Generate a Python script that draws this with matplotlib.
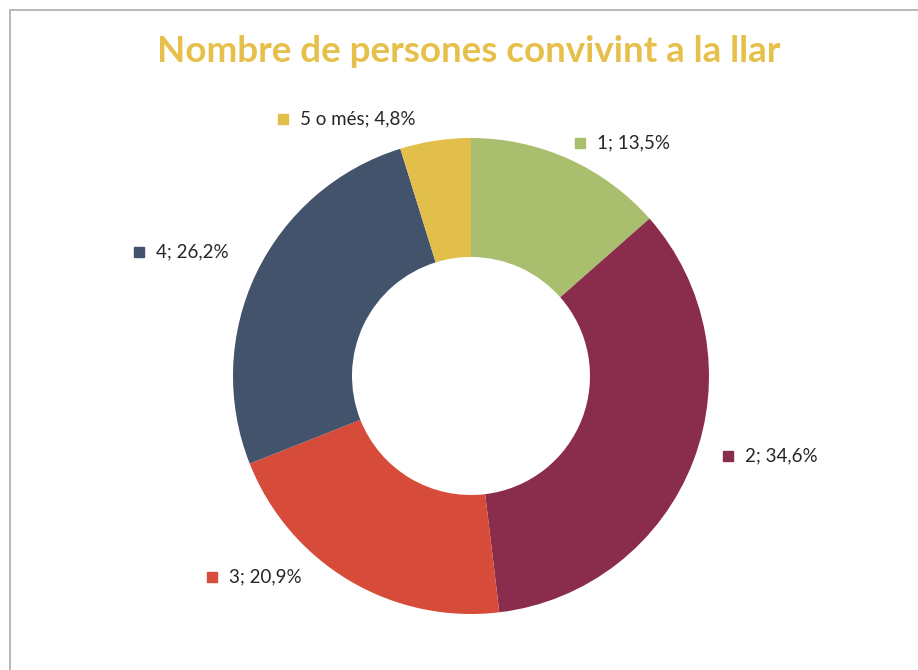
import matplotlib.pyplot as plt
from matplotlib.patches import Rectangle

# data
categories = ["1", "2", "3", "4", "5 o més"]
shares = [13.5, 34.6, 20.9, 26.2, 4.8]
colors = ["#A9BF6E", "#8A2C4B", "#D64B3A", "#42536B", "#E2BE4A"]
title = "Nombre de persones convivint a la llar"

# label anchor points (in units of the outer radius), as Excel placed them
label_pos = [(0.458, 0.979), (1.080, -0.336), (-1.088, -0.845),
             (-1.395, 0.521), (-0.790, 1.080)]

fig = plt.figure(figsize=(9.18, 6.70), dpi=100)
ax = fig.add_axes([0, 0, 1, 1])

ax.pie(shares, colors=colors, startangle=90, counterclock=False,
       radius=1.0, wedgeprops=dict(width=0.5, linewidth=0))

for cat, val, col, (x, y) in zip(categories, shares, colors, label_pos):
    ax.plot(x, y, marker="s", markersize=7.5, color=col, linestyle="none")
    txt = f"{cat}; {val:.1f}%".replace(".", ",")
    ax.text(x + 0.07, y, txt, fontsize=13.5, family="Lato", color="#262626",
            va="center", ha="left")

# centre of donut at (471, 376) px, radius 238 px
ax.set_xlim(-471 / 238, (918 - 471) / 238)
ax.set_ylim(-(670 - 376) / 238, 376 / 238)
ax.set_aspect("auto")
ax.axis("off")

fig.text(469 / 918, 1 - 51 / 670, title, fontsize=26.5, fontweight="bold",
         family="Lato", color="#E6C04A", ha="center", va="center")

# chart frame (left and top edges visible)
fig.patches.append(Rectangle((10 / 918, -0.1), 1.2, 1 - 10 / 670 + 0.1,
                             transform=fig.transFigure, fill=False,
                             edgecolor="#ABABAB", linewidth=1.2))

fig.savefig("out.png", dpi=100)
